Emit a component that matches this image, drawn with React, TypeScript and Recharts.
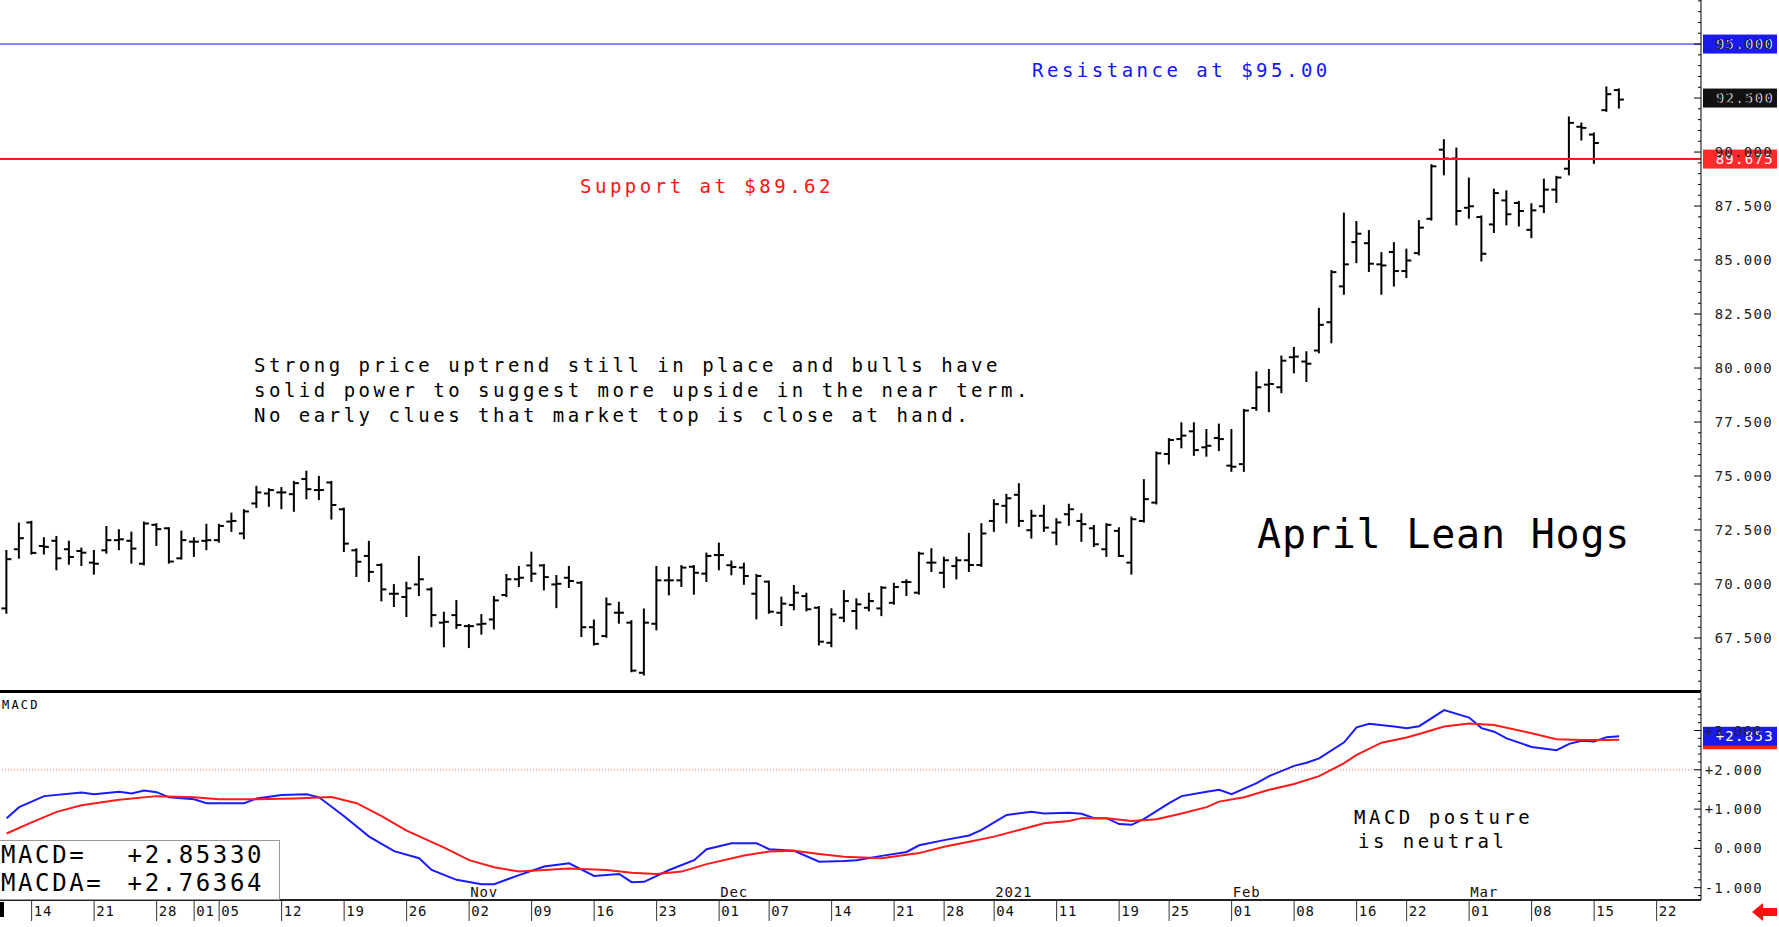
import React from "react";
import { ComposedChart, Bar, Line, XAxis, YAxis, ReferenceLine } from "recharts";

// ---- data: trading-day index 0 = Sep 10 2020 ... 129 = Mar 17 2021 ----
const opens = [
  68.87, 71.61, 72.85, 71.76, 72.0, 71.61, 71.53, 70.99, 71.56, 72.03,
  72.0, 70.94, 72.74, 72.58, 71.19, 71.96, 72.0, 72.03, 72.89, 72.34,
  73.73, 74.19, 74.24, 74.16, 74.86, 74.35, 74.7, 73.46, 71.56, 71.3,
  70.88, 69.55, 69.4, 69.98, 69.75, 68.21, 68.56, 68.05, 68.13, 68.36,
  69.49, 70.22, 70.86, 70.86, 69.98, 70.29, 70.06, 68.0, 67.59, 68.67,
  68.21, 65.89, 68.16, 70.17, 70.17, 70.8, 70.48, 71.34, 70.87, 70.76,
  69.55, 70.11, 68.67, 69.03, 69.44, 68.9, 67.28, 68.44, 68.75, 68.9,
  68.87, 69.13, 70.09, 69.6, 70.99, 70.52, 70.83, 71.1, 70.88, 72.92,
  73.62, 74.13, 72.49, 73.16, 72.38, 73.23, 72.92, 72.58, 71.61, 72.46,
  70.99, 72.92, 73.77, 76.02, 76.71, 77.07, 76.33, 76.76, 75.48, 75.55,
  78.15, 79.23, 79.11, 80.5, 80.3, 80.81, 82.12, 83.78, 85.83, 85.78,
  84.8, 85.37, 84.49, 85.32, 86.91, 90.11, 89.7, 87.42, 86.99, 86.65,
  87.76, 87.64, 86.4, 87.49, 88.26, 89.23, 91.17, 90.81, 91.94, 92.87,
];
const highs = [
  71.53, 72.8, 72.88, 72.12, 72.18, 71.96, 71.64, 71.53, 72.64, 72.49,
  72.38, 72.85, 72.77, 72.58, 72.43, 72.12, 72.74, 72.74, 73.26, 73.42,
  74.5, 74.39, 74.44, 74.73, 75.2, 74.96, 74.73, 73.49, 71.61, 71.95,
  70.91, 69.95, 70.06, 71.25, 69.8, 68.67, 69.21, 68.1, 68.56, 69.4,
  70.42, 70.79, 71.45, 70.88, 70.37, 70.79, 70.09, 68.31, 69.33, 69.13,
  68.28, 68.82, 70.79, 70.76, 70.83, 70.83, 71.41, 71.87, 71.04, 70.94,
  70.42, 70.11, 69.37, 69.91, 69.55, 68.93, 68.83, 69.67, 69.29, 69.55,
  69.86, 70.01, 70.17, 71.45, 71.61, 71.22, 71.22, 72.32, 72.77, 73.88,
  74.13, 74.62, 73.39, 73.62, 73.0, 73.67, 73.23, 72.69, 72.77, 72.58,
  73.08, 74.81, 76.09, 76.71, 77.44, 77.44, 77.13, 77.38, 77.13, 78.06,
  79.8, 79.91, 80.53, 80.93, 80.73, 82.74, 84.49, 87.15, 86.76, 86.34,
  85.32, 85.78, 85.48, 86.8, 89.39, 90.55, 90.16, 88.77, 87.02, 88.26,
  88.18, 87.69, 87.58, 88.72, 88.85, 91.6, 91.32, 90.86, 92.99, 92.9,
];
const lows = [
  68.67, 71.22, 71.41, 71.41, 70.68, 70.94, 70.88, 70.48, 71.45, 71.61,
  70.99, 70.91, 71.81, 70.99, 71.18, 71.3, 71.61, 71.96, 72.46, 72.12,
  73.57, 73.62, 73.51, 73.39, 73.97, 73.93, 73.03, 71.53, 70.37, 70.14,
  69.24, 68.98, 68.52, 69.49, 68.05, 67.12, 67.97, 67.08, 67.7, 67.94,
  69.44, 69.91, 70.14, 69.75, 68.93, 69.86, 67.59, 67.2, 67.56, 68.21,
  65.96, 65.81, 67.9, 69.52, 69.91, 69.55, 70.14, 70.68, 70.45, 70.01,
  68.41, 68.67, 68.1, 68.83, 68.78, 67.2, 67.12, 68.28, 67.94, 68.78,
  68.56, 69.09, 69.49, 69.55, 70.6, 69.86, 70.26, 70.6, 70.84, 72.46,
  72.85, 72.69, 72.15, 72.46, 71.84, 72.74, 72.0, 71.76, 71.3, 71.3,
  70.48, 72.89, 73.73, 75.58, 76.33, 75.98, 75.94, 76.2, 75.24, 75.24,
  78.06, 78.0, 78.88, 79.8, 79.4, 80.73, 81.19, 83.44, 84.9, 84.49,
  83.44, 83.82, 84.21, 85.26, 86.87, 88.97, 86.65, 86.96, 84.98, 86.3,
  86.65, 86.6, 86.06, 87.22, 87.69, 88.97, 90.58, 89.5, 91.91, 92.06,
];
const closes = [
  71.15, 72.12, 71.44, 71.72, 71.19, 71.25, 71.45, 70.94, 72.03, 72.07,
  71.64, 72.8, 72.54, 71.04, 72.03, 71.96, 72.03, 72.69, 72.92, 73.36,
  74.24, 74.35, 74.24, 74.67, 74.39, 74.35, 73.66, 71.87, 71.03, 70.56,
  69.75, 69.55, 69.8, 70.22, 68.56, 68.25, 68.1, 68.05, 68.16, 69.24,
  70.22, 70.29, 70.48, 70.32, 70.01, 70.14, 68.0, 67.23, 69.06, 68.67,
  65.99, 68.21, 70.17, 70.17, 70.76, 70.52, 71.3, 71.34, 70.79, 70.37,
  70.37, 68.72, 69.09, 69.6, 68.83, 67.33, 68.59, 69.21, 69.06, 69.21,
  69.83, 69.86, 70.09, 71.41, 70.99, 71.1, 71.1, 70.88, 72.34, 73.7,
  73.97, 72.92, 73.16, 72.61, 72.85, 73.46, 72.77, 71.84, 72.74, 71.3,
  73.0, 73.93, 76.05, 76.67, 76.87, 76.2, 76.4, 76.71, 75.43, 78.03,
  79.11, 79.26, 80.34, 80.53, 80.2, 82.0, 84.44, 84.8, 86.22, 84.83,
  84.75, 84.49, 84.98, 86.5, 89.34, 89.7, 87.27, 87.49, 85.29, 88.1,
  87.12, 87.27, 87.3, 88.26, 88.82, 91.35, 91.12, 90.42, 92.68, 92.43,
];

// MACD (blue) and its average (red), read at these trading-day indices
const macdIdx = [
  0, 1, 3, 6, 7, 9, 10, 11, 12, 13, 15, 16, 19, 20, 22, 24, 25, 27, 29, 31,
  33, 34, 36, 38, 39, 41, 43, 45, 47, 49, 50, 51, 53, 55, 56, 58, 60, 61, 63, 65,
  67, 68, 70, 72, 73, 75, 77, 78, 80, 82, 83, 85, 86, 87, 88, 89, 90, 91, 93, 94,
  96, 97, 98, 100, 101, 103, 104, 105, 107, 108, 109, 111, 112, 113, 115, 117, 118, 119, 120, 122,
  124, 125, 126, 127, 128, 129,
];
const macdVals = [
  0.77, 1.05, 1.33, 1.42, 1.38, 1.44, 1.4, 1.47, 1.43, 1.3, 1.25, 1.15, 1.15, 1.27, 1.36, 1.38, 1.3, 0.82, 0.3, -0.07,
  -0.25, -0.55, -0.8, -0.91, -0.91, -0.68, -0.46, -0.38, -0.7, -0.65, -0.86, -0.85, -0.55, -0.3, -0.02, 0.13, 0.13, -0.02, -0.06, -0.34,
  -0.32, -0.3, -0.19, -0.09, 0.08, 0.21, 0.33, 0.47, 0.85, 0.93, 0.89, 0.91, 0.88, 0.77, 0.77, 0.62, 0.6, 0.75, 1.15, 1.33,
  1.44, 1.49, 1.38, 1.66, 1.84, 2.1, 2.18, 2.29, 2.7, 3.08, 3.17, 3.1, 3.06, 3.11, 3.52, 3.33, 3.06, 2.97, 2.8, 2.58,
  2.5, 2.66, 2.74, 2.72, 2.83, 2.853,
];
const signalIdx = [
  0, 2, 4, 6, 9, 12, 15, 17, 20, 23, 26, 28, 30, 32, 35, 37, 39, 41, 43, 45,
  48, 50, 52, 54, 56, 59, 61, 63, 65, 67, 70, 73, 75, 77, 79, 81, 83, 85, 86, 88,
  90, 92, 94, 96, 97, 99, 101, 103, 105, 107, 108, 110, 112, 113, 115, 117, 119, 120, 122, 124,
  126, 128, 129,
];
const signalVals = [
  0.38, 0.66, 0.93, 1.1, 1.24, 1.33, 1.3, 1.25, 1.25, 1.27, 1.31, 1.15, 0.82, 0.45, 0.02, -0.3, -0.48, -0.59, -0.55, -0.51,
  -0.55, -0.62, -0.65, -0.59, -0.4, -0.18, -0.08, -0.06, -0.14, -0.21, -0.25, -0.12, 0.04, 0.17, 0.3, 0.47, 0.64, 0.7, 0.77, 0.77,
  0.7, 0.74, 0.89, 1.05, 1.19, 1.3, 1.49, 1.64, 1.84, 2.17, 2.38, 2.69, 2.82, 2.91, 3.1, 3.18, 3.14, 3.07, 2.93, 2.78,
  2.76, 2.76, 2.764,
];

// date axis
const dateTickIdx = [2, 7, 12, 15, 17, 22, 27, 32, 37, 42, 47, 52, 57, 61, 66, 71, 75, 79, 84, 89, 93, 98, 103, 108, 112, 117, 122, 127, 132];
const dateTickLabels = ["14", "21", "28", "01", "05", "12", "19", "26", "02", "09", "16", "23", "01", "07", "14", "21", "28", "04", "11", "19", "25", "01", "08", "16", "22", "01", "08", "15", "22"];
const monthIdx = [37, 57, 79, 98, 117];
const monthLabels = ["Nov", "Dec", "2021", "Feb", "Mar"];

const resistance = 95;
const support = 89.675;
const lastPrice = 92.5;
const lastMacd = 2.853;
const lastSignal = 2.764;
const macdLevel = 2;

// ---- layout ----
const W = 1779;
const AXIS_W = 78;
const PRICE_H = 692;
const MACD_TOP = 693;
const MACD_H = 229;
const X_DOMAIN = [-0.53, 135.55];
const MONO = '"DejaVu Sans Mono", monospace';

const priceRows = opens.map((o, i) => ({ i, open: o, high: highs[i], low: lows[i], close: closes[i] }));

const valAt = (idx: number[], vals: number[], i: number) => {
  const k = idx.indexOf(i);
  return k >= 0 ? vals[k] : null;
};
const macdRows = Array.from(new Set([...macdIdx, ...signalIdx]))
  .sort((a, b) => a - b)
  .map((i) => ({ i, macd: valAt(macdIdx, macdVals, i), signal: valAt(signalIdx, signalVals, i) }));

const priceTicks: number[] = [];
for (let k = 131; k <= 194; k++) priceTicks.push(k / 2);
const macdTicks: number[] = [];
for (let k = -6; k <= 19; k++) macdTicks.push(k / 5);

const OhlcBar = (props: any) => {
  const { x, y, width, height, payload } = props;
  const cx = x + width / 2;
  const top = Math.min(y, y + height);
  const h = Math.abs(height);
  const span = payload.high - payload.low || 1;
  const yOf = (v: number) => top + ((payload.high - v) / span) * h;
  return (
    <g stroke="#000" strokeWidth={2}>
      <line x1={cx} x2={cx} y1={top - 1} y2={top + h + 1} />
      <line x1={cx - 5} x2={cx} y1={yOf(payload.open)} y2={yOf(payload.open)} />
      <line x1={cx} x2={cx + 5} y1={yOf(payload.close)} y2={yOf(payload.close)} />
    </g>
  );
};

const PriceTick = ({ x, y, payload }: any) => {
  const v = payload.value;
  const major = Math.abs(v / 2.5 - Math.round(v / 2.5)) < 1e-6;
  return (
    <g>
      <line x1={x - (major ? 7 : 3)} x2={x} y1={y} y2={y} stroke="#000" />
      {major && (
        <text x={x + 72} y={y} dy="0.36em" textAnchor="end" fontFamily={MONO} fontSize={14} letterSpacing={1.3} fill="#222">
          {v.toFixed(3)}
        </text>
      )}
    </g>
  );
};

const MacdTick = ({ x, y, payload }: any) => {
  const v = payload.value;
  const major = Math.abs(v - Math.round(v)) < 1e-6;
  const txt = v > 0.001 ? "+" + v.toFixed(3) : Math.abs(v) < 0.001 ? "0.000" : v.toFixed(3);
  return (
    <g>
      <line x1={x - (major ? 7 : 3)} x2={x} y1={y} y2={y} stroke="#000" />
      {major && (
        <text x={x + 62} y={y} dy="0.36em" textAnchor="end" fontFamily={MONO} fontSize={14} letterSpacing={1.3} fill="#222">
          {txt}
        </text>
      )}
    </g>
  );
};

const DateTick = ({ x, y, payload }: any) => {
  const k = dateTickIdx.indexOf(payload.value);
  const m = monthIdx.indexOf(payload.value);
  return (
    <g>
      <line x1={x} x2={x} y1={y} y2={y + 21} stroke="#333" />
      <text x={x + 2} y={y + 11} dy="0.36em" fontFamily={MONO} fontSize={14} letterSpacing={1} fill="#111">
        {dateTickLabels[k]}
      </text>
      {m >= 0 && (
        <text x={x + 1} y={y - 8} dy="0.36em" fontFamily={MONO} fontSize={14} letterSpacing={0.9} fill="#111">
          {monthLabels[m]}
        </text>
      )}
    </g>
  );
};

// value flag drawn on the right axis at a reference line
const AxisFlag = ({ viewBox, flagText, bg }: any) => {
  const x = viewBox.x + viewBox.width + 2;
  const y = viewBox.y;
  return (
    <g>
      <rect x={x} y={y - 9.5} width={74} height={19} fill={bg} />
      <text x={x + 71} y={y} dy="0.36em" textAnchor="end" fontFamily={MONO} fontSize={14} letterSpacing={1.3} style={{ fill: "#ffffff" }}>
        {flagText}
      </text>
    </g>
  );
};

const txt = { fontFamily: MONO, fontSize: 19, letterSpacing: 3.5 };

export default function App() {
  return (
    <div style={{ position: "absolute", left: 0, top: 0, width: W, height: 927, background: "#fff", overflow: "hidden" }}>
      <div style={{ position: "absolute", left: 0, top: 0 }}>
        <ComposedChart width={W} height={PRICE_H} data={priceRows} margin={{ top: 0, right: 0, left: 0, bottom: 0 }}>
          <XAxis dataKey="i" type="number" domain={X_DOMAIN} allowDataOverflow hide />
          <YAxis
            orientation="right"
            width={AXIS_W}
            type="number"
            domain={[65, 97.04]}
            allowDataOverflow
            ticks={priceTicks}
            interval={0}
            tickSize={0}
            tickMargin={0}
            tickLine={false}
            axisLine={{ stroke: "#000" }}
            tick={<PriceTick />}
          />
          <ReferenceLine y={resistance} stroke="#1010ff" label={<AxisFlag flagText="95.000" bg="#1a1aee" />} />
          <ReferenceLine y={lastPrice} stroke="none" label={<AxisFlag flagText="92.500" bg="#111" />} />
          <ReferenceLine y={support} stroke="#ff1a1a" strokeWidth={2} label={<AxisFlag flagText="89.675" bg="#ff2a2a" />} />
          <Bar dataKey={(d: any) => [d.low, d.high]} barSize={8} shape={<OhlcBar />} isAnimationActive={false} />
        </ComposedChart>
      </div>

      <div style={{ position: "absolute", left: 0, top: 690, width: W - AXIS_W, height: 3, background: "#000" }} />

      <div style={{ position: "absolute", left: 0, top: MACD_TOP }}>
        <ComposedChart width={W} height={MACD_H} data={macdRows} margin={{ top: 0, right: 0, left: 0, bottom: 0 }}>
          <XAxis
            dataKey="i"
            type="number"
            domain={X_DOMAIN}
            allowDataOverflow
            ticks={dateTickIdx}
            interval={0}
            height={22}
            tickSize={0}
            tickMargin={0}
            tickLine={false}
            axisLine={{ stroke: "#222", strokeWidth: 2 }}
            tick={<DateTick />}
          />
          <YAxis
            orientation="right"
            width={AXIS_W}
            type="number"
            domain={[-1.313, 3.954]}
            allowDataOverflow
            ticks={macdTicks}
            interval={0}
            tickSize={0}
            tickMargin={0}
            tickLine={false}
            axisLine={{ stroke: "#000" }}
            tick={<MacdTick />}
          />
          <ReferenceLine y={macdLevel} stroke="#ff7070" strokeDasharray="1 2" />
          <ReferenceLine y={lastSignal} stroke="none" label={<AxisFlag flagText="+2.764" bg="#ff2020" />} />
          <ReferenceLine y={lastMacd} stroke="none" label={<AxisFlag flagText="+2.853" bg="#1a1aee" />} />
          <Line dataKey="macd" type="linear" stroke="#1a1aff" strokeWidth={2} dot={false} connectNulls isAnimationActive={false} />
          <Line dataKey="signal" type="linear" stroke="#ff1a1a" strokeWidth={2} dot={false} connectNulls isAnimationActive={false} />
        </ComposedChart>
      </div>

      <div
        style={{
          position: "absolute",
          left: 0,
          top: 840,
          width: 280,
          height: 60,
          background: "#fff",
          border: "1px solid #999",
          borderLeft: "none",
          boxSizing: "border-box",
        }}
      />

      <svg width={W} height={927} style={{ position: "absolute", left: 0, top: 0, pointerEvents: "none" }}>
        <text x={1032} y={70} dominantBaseline="central" fill="#1414ff" {...txt}>Resistance at $95.00</text>
        <text x={580} y={186} dominantBaseline="central" fill="#ff1414" {...txt}>Support at $89.62</text>
        <text x={254} y={365} dominantBaseline="central" fill="#000" {...txt}>Strong price uptrend still in place and bulls have</text>
        <text x={254} y={390} dominantBaseline="central" fill="#000" {...txt}>solid power to suggest more upside in the near term.</text>
        <text x={254} y={415} dominantBaseline="central" fill="#000" {...txt}>No early clues that market top is close at hand.</text>
        <text x={1257} y={534} dominantBaseline="central" fill="#000" fontFamily={MONO} fontSize={40} letterSpacing={0.8}>April Lean Hogs</text>
        <text x={1354} y={817} dominantBaseline="central" fill="#000" {...txt}>MACD posture</text>
        <text x={1358} y={841} dominantBaseline="central" fill="#000" {...txt}>is neutral</text>
        <text x={2} y={705} dominantBaseline="central" fill="#000" fontFamily={MONO} fontSize={12} letterSpacing={2.2}>MACD</text>
        <text x={1} y={855} dominantBaseline="central" fill="#000" fontFamily={MONO} fontSize={24} letterSpacing={2.6}>MACD=</text>
        <text x={264} y={855} dominantBaseline="central" textAnchor="end" fill="#000" fontFamily={MONO} fontSize={24} letterSpacing={2.6}>+2.85330</text>
        <text x={1} y={883} dominantBaseline="central" fill="#000" fontFamily={MONO} fontSize={24} letterSpacing={2.6}>MACDA=</text>
        <text x={264} y={883} dominantBaseline="central" textAnchor="end" fill="#000" fontFamily={MONO} fontSize={24} letterSpacing={2.6}>+2.76364</text>
        <rect x={0} y={902} width={4} height={15} fill="#000" />
        <polygon points="1752,912 1763,903 1763,908 1777,908 1777,916 1763,916 1763,921" fill="#ff1010" />
      </svg>
    </div>
  );
}
